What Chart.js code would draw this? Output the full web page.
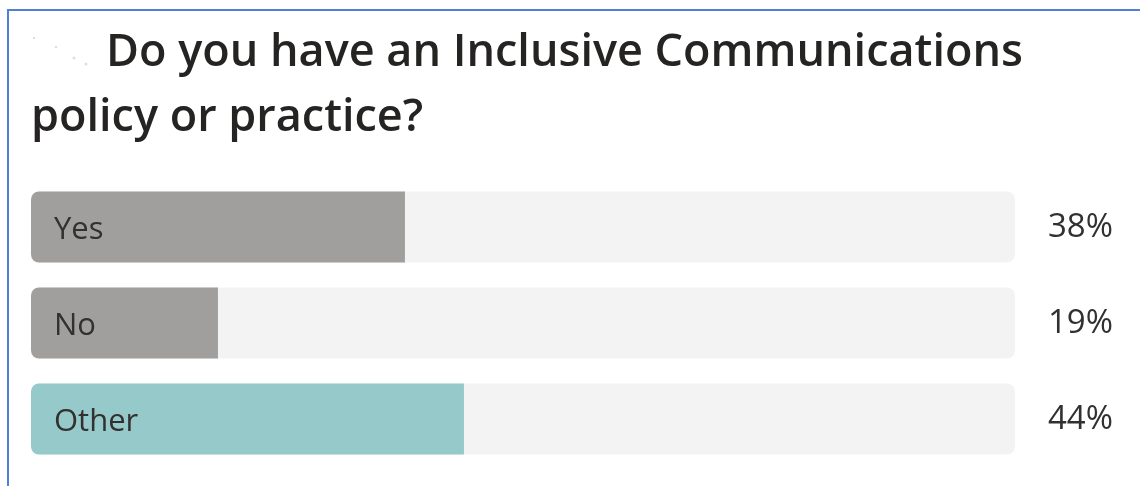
<!DOCTYPE html>
<html>
<head>
<meta charset="utf-8">
<title>Inclusive Communications poll</title>
<script src="https://cdn.jsdelivr.net/npm/chart.js@4.4.1/dist/chart.umd.min.js"></script>
<style>
  html, body { margin: 0; padding: 0; background: #fff; }
  #wrap { position: relative; width: 1140px; height: 486px; overflow: hidden; }
  /* blue frame around the poll card */
  #frame {
    position: absolute; left: 7px; top: 9px; right: -10px; bottom: -10px;
    border-top: 2px solid #4f80d6; border-left: 2px solid #4f80d6;
    pointer-events: none;
  }
  #poll { position: absolute; left: 0; top: 0; }
</style>
</head>
<body>
<div id="wrap">
  <canvas id="poll" width="1140" height="486"></canvas>
  <div id="frame"></div>
</div>
<script>
// poll answers and share of responses (%)
const answers  = ['Yes', 'No', 'Other'];
const shares   = [38, 19, 44];
const trackMax = [100, 100, 100];
const titleLines = ['Do you have an Inclusive Communications', 'policy or practice?'];

const FONT = '"Open Sans", "Noto Sans", sans-serif';
const fillColors = ['#a19f9d', '#a19f9d', '#95c9ca'];

// question text + the faded icon in front of it
const titlePlugin = {
  id: 'pollTitle',
  afterDraw(chart) {
    const ctx = chart.ctx;
    ctx.save();
    ctx.fillStyle = 'rgba(180,198,225,0.55)';
    [[34, 38, 1.2], [56, 47, 1.2], [74, 58, 1.5], [86, 64, 1.5]].forEach(([x, y, r]) => {
      ctx.beginPath(); ctx.arc(x, y, r, 0, Math.PI * 2); ctx.fill();
    });
    ctx.fillStyle = '#252423';
    ctx.font = '600 45px ' + FONT;
    ctx.textBaseline = 'alphabetic';
    ctx.textAlign = 'left';
    ctx.fillText(titleLines[0], 106, 66);
    ctx.fillText(titleLines[1], 31, 131);
    ctx.restore();
  }
};

// answer text inside each bar, percentage to the right of the track
const labelPlugin = {
  id: 'pollLabels',
  afterDatasetsDraw(chart) {
    const ctx = chart.ctx;
    const area = chart.chartArea;
    const meta = chart.getDatasetMeta(0);
    ctx.save();
    ctx.fillStyle = '#323130';
    ctx.textBaseline = 'middle';
    meta.data.forEach((bar, i) => {
      ctx.font = '31px ' + FONT;
      ctx.textAlign = 'left';
      ctx.fillText(answers[i], area.left + 23, bar.y + 3);
      ctx.font = '33px ' + FONT;
      ctx.textAlign = 'right';
      ctx.fillText(shares[i] + '%', area.right + 98, bar.y + 1);
    });
    ctx.restore();
  }
};

new Chart(document.getElementById('poll'), {
  type: 'bar',
  data: {
    labels: answers,
    datasets: [
      {
        data: shares,
        backgroundColor: fillColors,
        borderSkipped: false,
        borderRadius: { topLeft: 8, bottomLeft: 8, topRight: 0, bottomRight: 0 },
        grouped: false,
        order: 1
      },
      {
        data: trackMax,
        backgroundColor: '#f3f3f3',
        borderSkipped: false,
        borderRadius: 8,
        grouped: false,
        order: 2
      }
    ]
  },
  options: {
    indexAxis: 'y',
    responsive: false,
    animation: false,
    devicePixelRatio: 1,
    barPercentage: 0.74,
    categoryPercentage: 1,
    layout: { padding: { left: 31, right: 125, top: 179, bottom: 19 } },
    scales: {
      x: { display: false, min: 0, max: 100 },
      y: { display: false }
    },
    plugins: {
      legend: { display: false },
      title: { display: false },
      tooltip: { enabled: false }
    }
  },
  plugins: [titlePlugin, labelPlugin]
});
</script>
</body>
</html>
